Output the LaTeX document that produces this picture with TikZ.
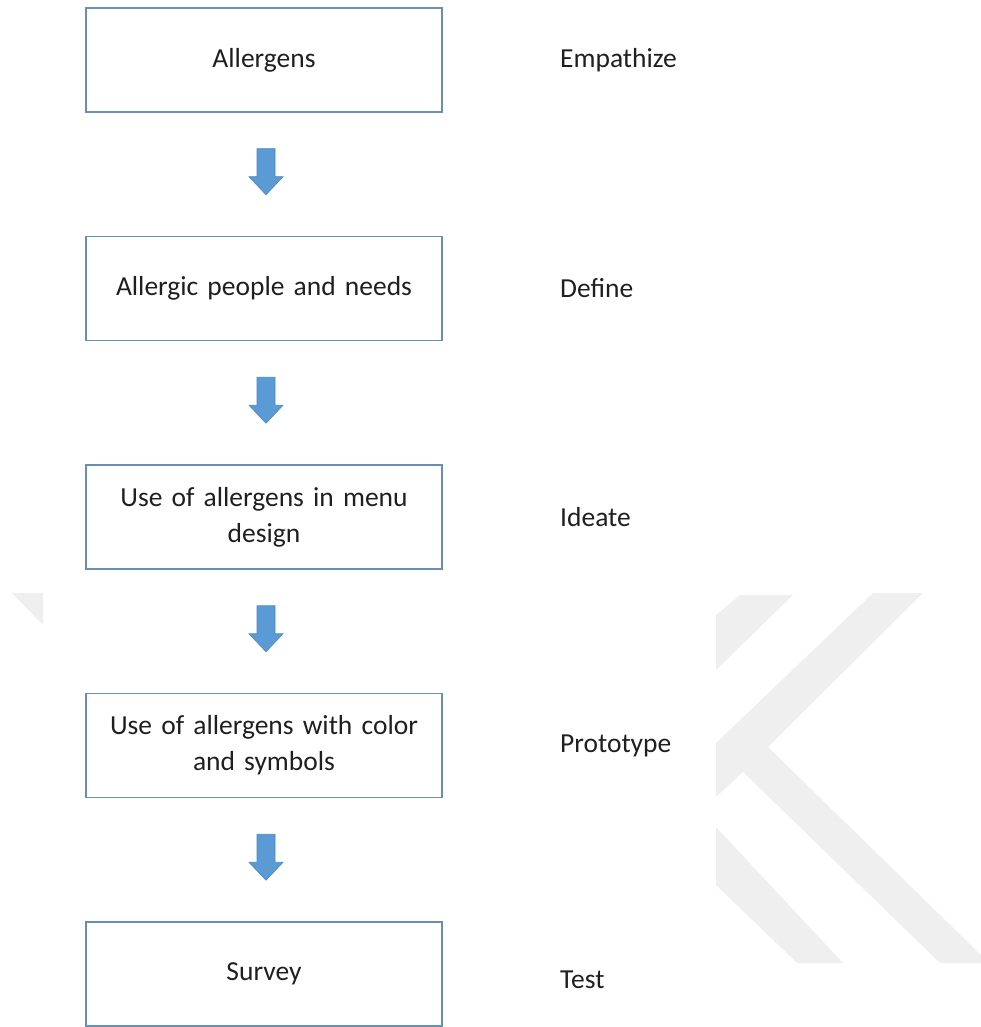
\documentclass[tikz,border=0pt]{standalone}
\usepackage{fontspec}
\setmainfont{Carlito}
\usetikzlibrary{calc}
\definecolor{boxline}{HTML}{6A8DB8}
\definecolor{arrowfill}{HTML}{5B9BD5}
\definecolor{arrowline}{HTML}{4A86C0}
\definecolor{wm}{HTML}{EFEFEF}
\definecolor{txt}{HTML}{1F1F1F}
\begin{document}
\begin{tikzpicture}[x=1pt,y=-1pt,
  stepbox/.style={draw=boxline,line width=1.3pt,minimum width=356pt,minimum height=104pt,
    align=center,text width=330pt,inner sep=0pt,font=\fontsize{27.5}{36}\selectfont,text=txt},
  phase/.style={anchor=west,inner sep=0pt,font=\fontsize{27.5}{36}\selectfont,text=txt},
  wmark/.style={fill=wm,draw=none},
  blockarrow/.style={fill=arrowfill,draw=arrowline,line width=0.6pt,line join=miter}]
\useasboundingbox (0,0) rectangle (981,1027);
% watermark
\fill[wmark] (12,593) -- (43,593) -- (43,625) -- cycle;
\fill[wmark] (716,615) -- (740,595) -- (793,595) -- (716,670) -- cycle;
\fill[wmark] (873,593) -- (923,593) -- (768,747) -- (981,955) -- (981,963) -- (940,963)
   -- (743,772) -- (716,797) -- (716,743) -- cycle;
\fill[wmark] (716,827) -- (843,963) -- (797,963) -- (716,885) -- cycle;
% boxes
\node[stepbox] (b1) at (264,60) {Allergens};
\node[stepbox] (b2) at (264,288.5) {Allergic people and needs};
\node[stepbox] (b3) at (264,517) {Use of allergens in menu\\design};
\node[stepbox] (b4) at (264,745.5) {Use of allergens with color\\and symbols};
\node[stepbox] (b5) at (264,974) {Survey};
% phase labels
\node[phase] (p1) at (560,60) {Empathize};
\node[phase] (p2) at (560,288.5) {Define};
\node[phase] (p3) at (560,517) {Ideate};
\node[phase] (p4) at (560,745.5) {Prototype};
\node[phase] (p5) at (560,980) {Test};
% block arrows
\foreach \a/\b in {b1/b2,b2/b3,b3/b4,b4/b5}{
  \coordinate (m) at ($(\a.south)!0.5!(\b.north)$);
  \draw[blockarrow] ($(m)+(-7,-25.5)$) -- ++(18,0) -- ++(0,28) -- ++(8,0)
     -- ++(-17,18) -- ++(-17,-18) -- ++(8,0) -- cycle;
}
\end{tikzpicture}
\end{document}
